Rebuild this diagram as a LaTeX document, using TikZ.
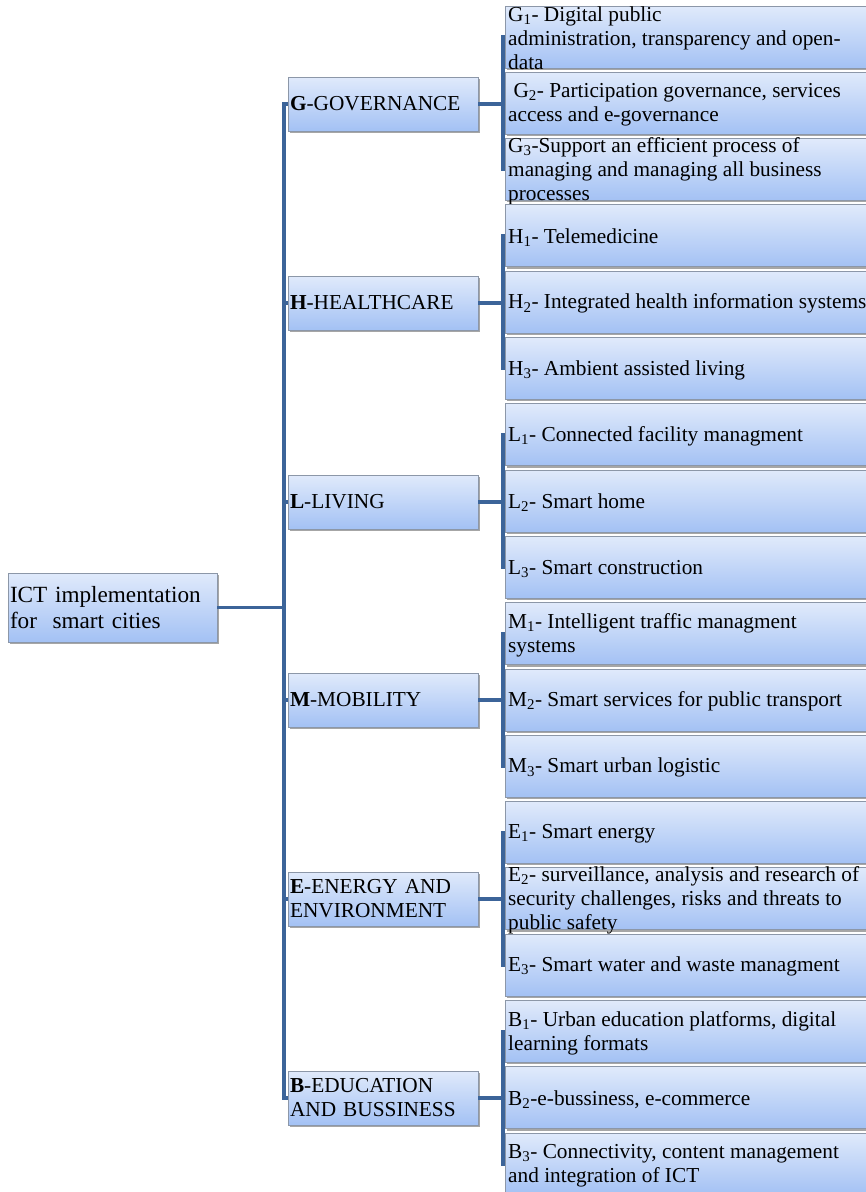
\documentclass[tikz,border=0pt]{standalone}
\usepackage{fontspec}
\setmainfont{Liberation Serif}
\usetikzlibrary{shadows,calc}
\definecolor{conncol}{HTML}{3C6499}
\definecolor{boxtop}{HTML}{E0EAFB}
\definecolor{boxbot}{HTML}{A3C1F4}
\definecolor{boxline}{HTML}{8C97A8}
\tikzset{
  shbox/.style={draw=boxline, line width=0.9pt, top color=boxtop, bottom color=boxbot,
    drop shadow={shadow xshift=1.8pt, shadow yshift=-1.8pt, fill=black, opacity=0.35},
    anchor=north west, inner sep=0pt, outer sep=0pt},
  leafbox/.style={shbox, minimum width=375pt, minimum height=62pt},
  leaftext/.style={anchor=west, inner sep=0pt, align=left, font=\fontsize{21.3}{24}\selectfont},
  catbox/.style={shbox, minimum height=54pt, text width=186pt, inner xsep=2pt, align=left,
    font=\fontsize{21.3}{24}\selectfont},
  rootbox/.style={shbox, minimum height=69pt, text width=205pt, inner xsep=2pt, align=left,
    font=\fontsize{23.2}{26}\selectfont},
  conn/.style={draw=conncol, line width=3.4pt}
}
\newcommand\leaf[3]{%
  \node[leafbox] (#1) at (505,{6+66.3*#2}) {};
  \node[leaftext] (#1t) at ([xshift=3pt,yshift=-1.5pt]#1.west) {#3};
}
\begin{document}
\begin{tikzpicture}[x=1pt,y=-1pt]
\useasboundingbox (0,0) rectangle (866,1192);
\clip (0,0) rectangle (866,1192);
\fill[white] (0,0) rectangle (866,1192);

% root
\node[rootbox] (root) at (8,573) {ICT implementation\\for\ \ smart cities};

% categories
\node[catbox] (G) at (288,77) {\textbf{G}-GOVERNANCE};
\node[catbox] (H) at (288,276) {\textbf{H}-HEALTHCARE};
\node[catbox] (L) at (288,475) {\textbf{L}-LIVING};
\node[catbox] (M) at (288,673) {\textbf{M}-MOBILITY};
\node[catbox] (E) at (288,872) {\textbf{E}-ENERGY AND\\ENVIRONMENT};
\node[catbox] (B) at (288,1071) {\textbf{B}-EDUCATION\\AND BUSSINESS};

% leaves
\leaf{G1}{0}{G\textsubscript{1}- Digital public\\administration, transparency and open-\\data}
\leaf{G2}{1}{\ G\textsubscript{2}- Participation governance, services\\access and e-governance}
\leaf{G3}{2}{G\textsubscript{3}-Support an efficient process of\\managing and managing all business\\processes}
\leaf{H1}{3}{H\textsubscript{1}- Telemedicine}
\leaf{H2}{4}{H\textsubscript{2}- Integrated health information systems}
\leaf{H3}{5}{H\textsubscript{3}- Ambient assisted living}
\leaf{L1}{6}{L\textsubscript{1}- Connected facility managment}
\leaf{L2}{7}{L\textsubscript{2}- Smart home}
\leaf{L3}{8}{L\textsubscript{3}- Smart construction}
\leaf{M1}{9}{M\textsubscript{1}- Intelligent traffic managment\\systems}
\leaf{M2}{10}{M\textsubscript{2}- Smart services for public transport}
\leaf{M3}{11}{M\textsubscript{3}- Smart urban logistic}
\leaf{E1}{12}{E\textsubscript{1}- Smart energy}
\leaf{E2}{13}{E\textsubscript{2}- surveillance, analysis and research of\\security challenges, risks and threats to\\public safety}
\leaf{E3}{14}{E\textsubscript{3}- Smart water and waste managment}
\leaf{B1}{15}{B\textsubscript{1}- Urban education platforms, digital\\learning formats}
\leaf{B2}{16}{B\textsubscript{2}-e-bussiness, e-commerce}
\leaf{B3}{17}{B\textsubscript{3}- Connectivity, content management\\and integration of ICT}

% trunk
\coordinate (tG) at ([xshift=-4pt]G.west);
\coordinate (tB) at ([xshift=-4pt]B.west);
\draw[conn] (G.west) -- (tG) -- (tB) -- (B.west);
\foreach \c in {H,L,M,E}{
  \draw[conn] (\c.west) -- ([xshift=-4pt]\c.west);
}
\draw[conn] (root.east) -- (root.east -| tG);

% sub connectors
\foreach \c in {G,H,L,M,E,B}{
  \coordinate (\c a) at ([xshift=-2pt]\c1.west);
  \coordinate (\c b) at ([xshift=-2pt]\c3.west);
  \draw[conn] (\c1.west) -- (\c a) -- (\c b) -- (\c3.west);
  \draw[conn] (\c2.west) -- ([xshift=-2pt]\c2.west);
  \draw[conn] (\c.east) -- (\c.east -| \c a);
}
\end{tikzpicture}
\end{document}
